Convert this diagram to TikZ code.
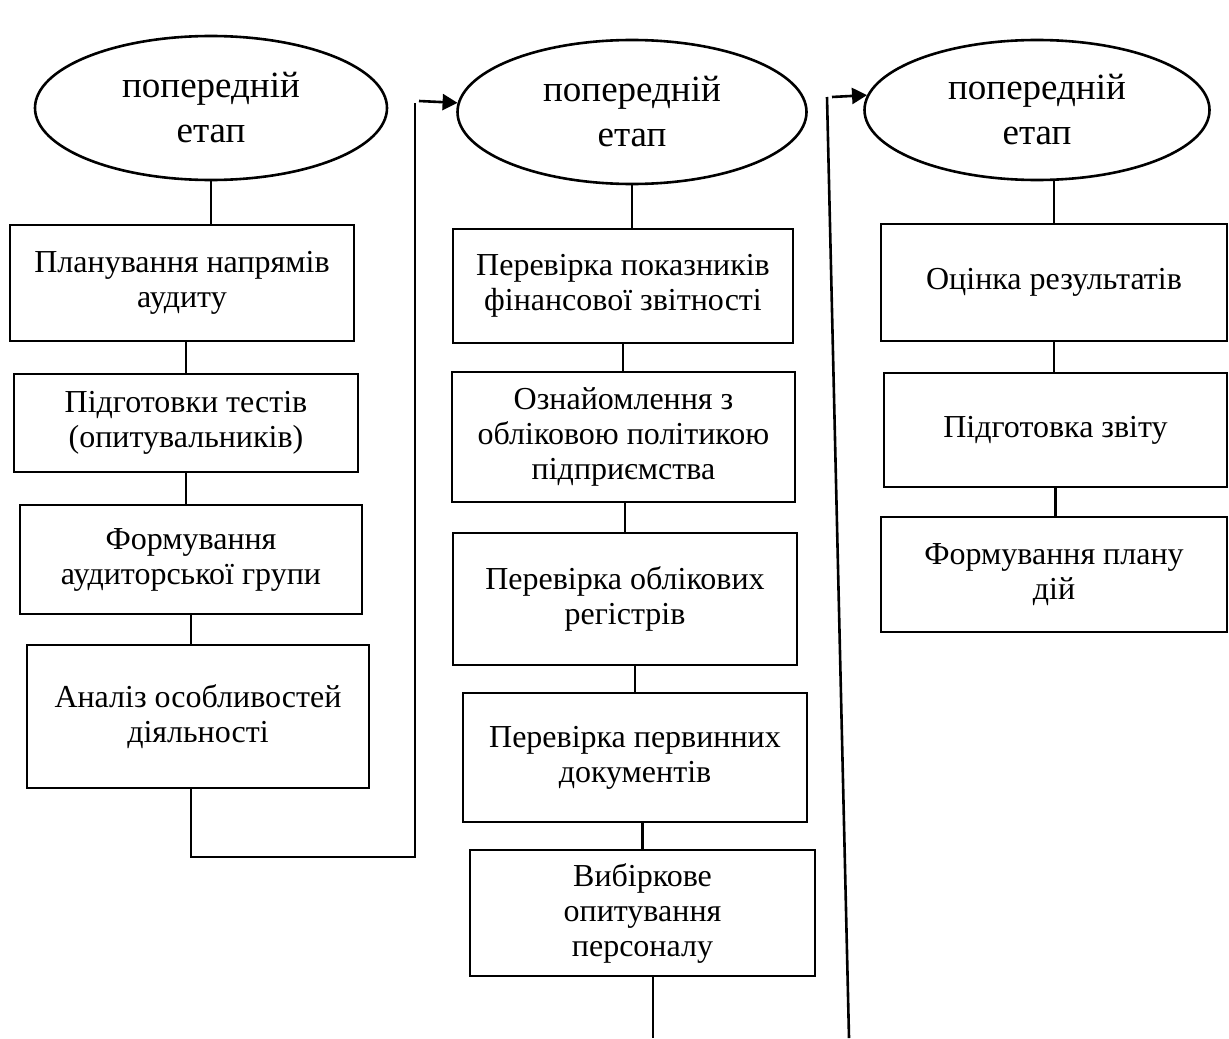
\documentclass[tikz,border=0pt]{standalone}
\usepackage{fontspec}
\setmainfont{Liberation Serif}
\usetikzlibrary{shapes.geometric,arrows.meta}

\begin{document}
\begin{tikzpicture}[
  x=0.5pt, y=-0.5pt,
  line width=1.3pt,
  stage/.style={draw, ellipse, inner sep=0pt, align=center,
    font=\fontsize{18.5}{22.5}\selectfont},
  blk/.style={draw, rectangle, inner sep=2pt, align=center,
    font=\fontsize{16}{17.5}\selectfont},
  go/.style={-{Triangle[length=7.5pt,width=8pt]}},
]
\useasboundingbox (0,0) rectangle (1229,1038);

% stages
\node [stage, minimum width=176pt, minimum height=72pt] (e1) at (211,108) {попередній\\етап};
\node [stage, minimum width=174.5pt, minimum height=72pt] (e2) at (632,112) {попередній\\етап};
\node [stage, minimum width=172.5pt, minimum height=70pt] (e3) at (1037,110) {попередній\\етап};

% first column
\node [blk, minimum width=172pt, minimum height=58pt] (b1) at (182,283) {Планування напрямів\\аудиту};
\node [blk, minimum width=172pt, minimum height=49pt] (b2) at (186,423) {Підготовки тестів\\(опитувальників)};
\node [blk, minimum width=171pt, minimum height=54.5pt] (b3) at (191,559.5) {Формування\\аудиторської групи};
\node [blk, minimum width=171pt, minimum height=71.5pt] (b4) at (198,716.5) {Аналіз особливостей\\діяльності};

% second column
\node [blk, minimum width=170pt, minimum height=57pt] (c1) at (623,286) {Перевірка показників\\фінансової звітності};
\node [blk, minimum width=171.5pt, minimum height=65pt] (c2) at (623.5,437) {Ознайомлення з\\обліковою політикою\\підприємства};
\node [blk, minimum width=172pt, minimum height=66pt] (c3) at (625,599) {Перевірка облікових\\регістрів};
\node [blk, minimum width=172pt, minimum height=64.5pt] (c4) at (635,757.5) {Перевірка первинних\\документів};
\node [blk, minimum width=172.5pt, minimum height=63pt] (c5) at (642.5,913) {Вибіркове\\опитування\\персоналу};

% third column
\node [blk, minimum width=173pt, minimum height=58.5pt] (d1) at (1054,282.5) {Оцінка результатів};
\node [blk, minimum width=171.5pt, minimum height=57pt] (d2) at (1055.5,430) {Підготовка звіту};
\node [blk, minimum width=173pt, minimum height=57.5pt] (d3) at (1054,574.5) {Формування плану\\дій};

\coordinate (t1) at (415,103);
\coordinate (a1) at (419,101);
\coordinate (f1) at (653,1038);
\coordinate (f2) at (849,1038);
\coordinate (t2) at (827,97);
\coordinate (a2) at (832,97);

\draw (e1.south) -- (e1.south |- b1.north);
\draw (b2.north |- b1.south) -- (b2.north);
\draw (b2.south) -- (b2.south |- b3.north);
\draw (b3.south) -- (b3.south |- b4.north);
\draw (b4.south -| b3.south) -- (191,857) -- (415,857) -- (t1);
\draw [go] (a1) -- (e2.177);

\draw (e2.south) -- (e2.south |- c1.north);
\draw (c1.south) -- (c1.south |- c2.north);
\draw (c3.north |- c2.south) -- (c3.north);
\draw (c4.north |- c3.south) -- (c4.north);
\draw (c5.north |- c4.south) -- (c5.north);
\draw (c5.south -| f1) -- (f1);
\draw (f2) -- (t2);
\draw [go] (a2) -- (e3.175);

\draw (d1.north |- e3.south) -- (d1.north);
\draw (d1.south) -- (d1.south |- d2.north);
\draw (d2.south) -- (d2.south |- d3.north);

\end{tikzpicture}
\end{document}
